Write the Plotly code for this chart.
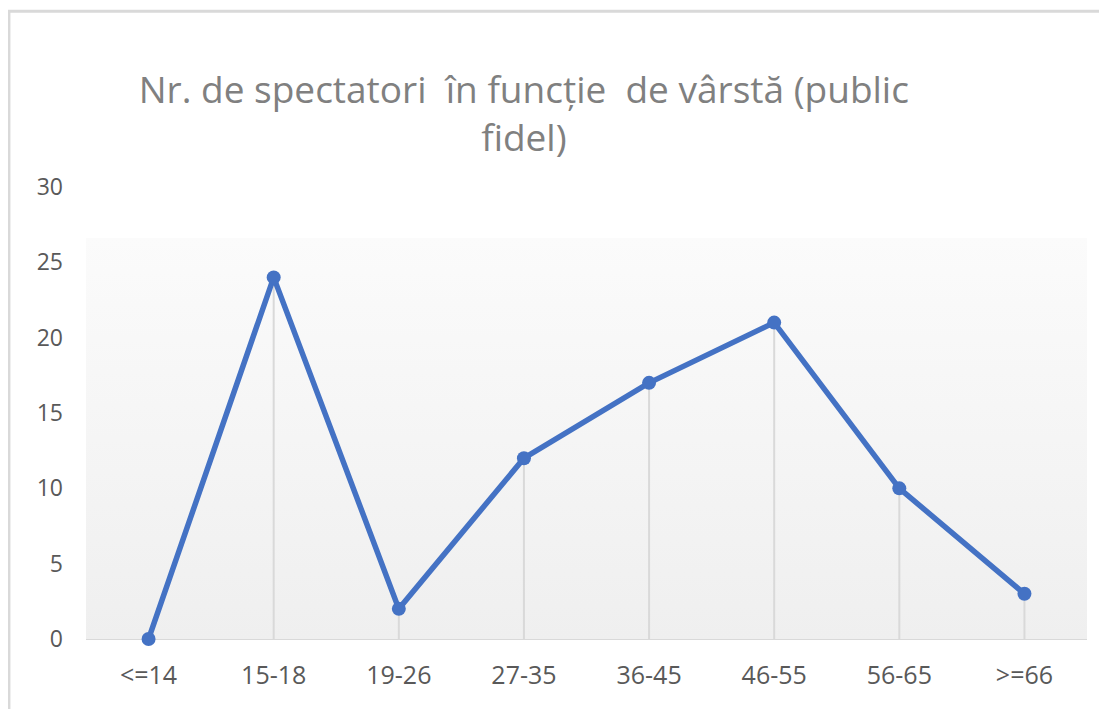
import plotly.graph_objects as go

# age groups and number of spectators (loyal audience)
categories = ["<=14", "15-18", "19-26", "27-35", "36-45", "46-55", "56-65", ">=66"]
spectators = [0, 24, 2, 12, 17, 21, 10, 3]
y_ticks = [0, 5, 10, 15, 20, 25, 30]

title_text = "Nr. de spectatori  în funcție  de vârstă (public<br>fidel)"

fig = go.Figure()

# plot area background: light gradient panel (near white at top -> light grey at bottom)
fig.add_trace(go.Scatter(
    x=[0, 1, 1, 0, 0], y=[0, 0, 0.887, 0.887, 0],
    mode="lines", line=dict(width=0), fill="toself",
    fillgradient=dict(type="vertical", colorscale=[[0, "#efefef"], [1, "#fbfbfb"]]),
    hoverinfo="skip", showlegend=False, xaxis="x", yaxis="y",
))

# the series, with drop lines down to the axis
fig.add_trace(go.Scatter(
    x=categories, y=spectators,
    mode="lines+markers",
    line=dict(color="#4472c4", width=5.5),
    marker=dict(color="#4472c4", size=14),
    error_y=dict(type="data", symmetric=False, array=[0] * len(spectators),
                 arrayminus=spectators, color="#d9d9d9", thickness=2, width=0),
    cliponaxis=False, showlegend=False,
    xaxis="x2", yaxis="y2",
))

# the page body adds an 8px offset, so margins are shifted by that amount
fig.update_layout(
    width=1107, height=709,
    margin=dict(l=78, r=28, t=179, b=78),
    paper_bgcolor="white", plot_bgcolor="rgba(0,0,0,0)",
    font=dict(family="Open Sans", color="#595959"),
    title=dict(text=title_text, x=0.466, xref="container", xanchor="center",
               y=0.866, yref="container", yanchor="middle",
               font=dict(size=37, color="#808080", family="Open Sans")),
    xaxis=dict(range=[0, 1], visible=False, fixedrange=True),
    yaxis=dict(range=[0, 1], visible=False, fixedrange=True),
    xaxis2=dict(overlaying="x", anchor="y2", side="bottom", type="category",
                range=[-0.5, len(categories) - 0.5],
                showgrid=False, zeroline=False, showline=False,
                ticks="", ticklabelstandoff=19,
                tickfont=dict(size=25, color="#595959")),
    yaxis2=dict(overlaying="y", anchor="x2", side="left",
                range=[0, 30], tickvals=y_ticks,
                showgrid=False, showline=False,
                zeroline=True, zerolinecolor="#d9d9d9", zerolinewidth=2,
                ticks="", ticklabelstandoff=22,
                tickfont=dict(size=23, color="#595959")),
    shapes=[
        # chart area border (top and left edges visible)
        dict(type="rect", xref="paper", yref="paper",
             x0=-0.077, x1=1.05, y0=-0.2, y1=1.389,
             line=dict(color="#d9d9d9", width=3), fillcolor="rgba(0,0,0,0)",
             layer="below"),
    ],
)

fig.write_html("out.html")
